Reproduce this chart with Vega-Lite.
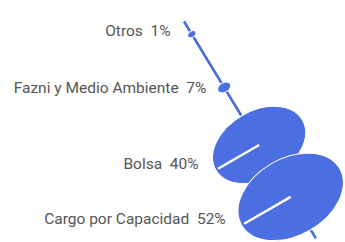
{
  "$schema": "https://vega.github.io/schema/vega-lite/v6.json",
  "width": 345,
  "height": 242,
  "autosize": {"type": "fit", "contains": "padding"},
  "padding": 0,
  "background": "white",
  "config": {"view": {"stroke": null}},
  "data": {
    "values": [
      {"category": "Otros", "share": 1, "pos": 5.8, "label": "Otros\u00a0 1%", "label_x": -10.3, "label_y": 4.3},
      {"category": "Fazni y Medio Ambiente", "share": 7, "pos": 30.4, "label": "Fazni y Medio Ambiente\u00a0 7%", "label_x": 16.9, "label_y": 30.7},
      {"category": "Bolsa", "share": 40, "pos": 57, "label": "Bolsa\u00a0 40%", "label_x": 11.0, "label_y": 65.8},
      {"category": "Cargo por Capacidad", "share": 52, "pos": 81, "label": "Cargo por Capacidad\u00a0 52%", "label_x": 31.6, "label_y": 91.3}
    ]
  },
  "layer": [
    {
      "mark": {"type": "rule", "color": "#4b6fe0", "strokeWidth": 2},
      "encoding": {
        "x": {"datum": 0, "type": "quantitative", "scale": {"domain": [-135.3, 118.4]}, "axis": null},
        "x2": {"datum": 100},
        "y": {"datum": 0, "type": "quantitative", "scale": {"domain": [-4.76, 100], "reverse": true}, "axis": null},
        "y2": {"datum": 100}
      }
    },
    {
      "mark": {"type": "point", "filled": true, "opacity": 1, "color": "#4b6fe0", "stroke": "white", "strokeWidth": 1, "shape": "M -1 0 A 1 0.68 0 1 0 1 0 A 1 0.68 0 1 0 -1 0 Z", "angle": -30},
      "encoding": {
        "x": {"field": "pos", "type": "quantitative"},
        "y": {"field": "pos", "type": "quantitative"},
        "size": {"field": "share", "type": "quantitative", "scale": {"type": "linear", "domain": [1, 7, 40, 52], "range": [80, 200, 10000, 12800]}, "legend": null}
      }
    },
    {
      "transform": [{"filter": "datum.share >= 40"}],
      "mark": {"type": "point", "filled": false, "opacity": 1, "stroke": "white", "strokeWidth": 2.5, "shape": "M 0 0 L -0.95 0", "angle": -30},
      "encoding": {
        "x": {"field": "pos", "type": "quantitative"},
        "y": {"field": "pos", "type": "quantitative"},
        "size": {"field": "share", "type": "quantitative", "legend": null}
      }
    },
    {
      "mark": {"type": "text", "align": "right", "baseline": "middle", "font": "Roboto", "fontSize": 15.5, "color": "#555555"},
      "encoding": {
        "x": {"field": "label_x", "type": "quantitative"},
        "y": {"field": "label_y", "type": "quantitative"},
        "text": {"field": "label"}
      }
    }
  ]
}
